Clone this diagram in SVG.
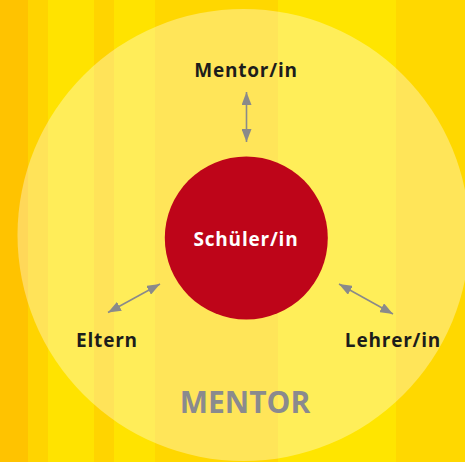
<svg xmlns="http://www.w3.org/2000/svg" width="465" height="462" viewBox="0 0 465 462">
<defs>
<style>
.lbl{font-family:"Open Sans","Liberation Sans",sans-serif;font-weight:bold;font-size:19px;fill:#1d1d1b;text-anchor:middle}
.conn{stroke:#8a8a8a;stroke-width:1.6;fill:none;marker-start:url(#ah);marker-end:url(#ah)}
</style>
<marker id="ah" viewBox="0 0 13 10" refX="13" refY="5" markerWidth="13" markerHeight="10" markerUnits="userSpaceOnUse" orient="auto-start-reverse">
<path d="M0,0 L13,5 L0,10 z" fill="#8a8a8a"/>
</marker>
</defs>
<g id="background">
<rect x="0" y="0" width="28" height="462" fill="#ffc300"/>
<rect x="28" y="0" width="20" height="462" fill="#ffd400"/>
<rect x="48" y="0" width="46" height="462" fill="#ffe300"/>
<rect x="94" y="0" width="20" height="462" fill="#ffd400"/>
<rect x="114" y="0" width="41" height="462" fill="#ffe300"/>
<rect x="155" y="0" width="123" height="462" fill="#ffd700"/>
<rect x="278" y="0" width="118" height="462" fill="#ffe500"/>
<rect x="396" y="0" width="69" height="462" fill="#ffd800"/>
</g>
<g id="mentor">
<circle cx="243.5" cy="235" r="226" fill="#ffffff" fill-opacity="0.35"/>
<text x="245" y="413" font-family="'Open Sans','Liberation Sans',sans-serif" font-weight="bold" font-size="30" fill="#8a8a8e" text-anchor="middle">MENTOR</text>
</g>
<g id="schueler">
<circle cx="246.3" cy="238" r="81.5" fill="#be0519"/>
<text x="246" y="246" class="lbl" fill="#ffffff" style="fill:#ffffff" letter-spacing="0.8">Schüler/in</text>
</g>
<g id="mentorin">
<text x="246" y="77" class="lbl" letter-spacing="0.8">Mentor/in</text>
</g>
<g id="eltern">
<text x="107" y="347" class="lbl" letter-spacing="0.8">Eltern</text>
</g>
<g id="lehrer">
<text x="393" y="347" class="lbl" letter-spacing="0.8">Lehrer/in</text>
</g>
<g id="connectors">
<line class="conn" x1="246.5" y1="92" x2="246.5" y2="142"/>
<line class="conn" x1="160" y1="284" x2="108" y2="312.5"/>
<line class="conn" x1="339" y1="284" x2="393" y2="314"/>
</g>
</svg>
